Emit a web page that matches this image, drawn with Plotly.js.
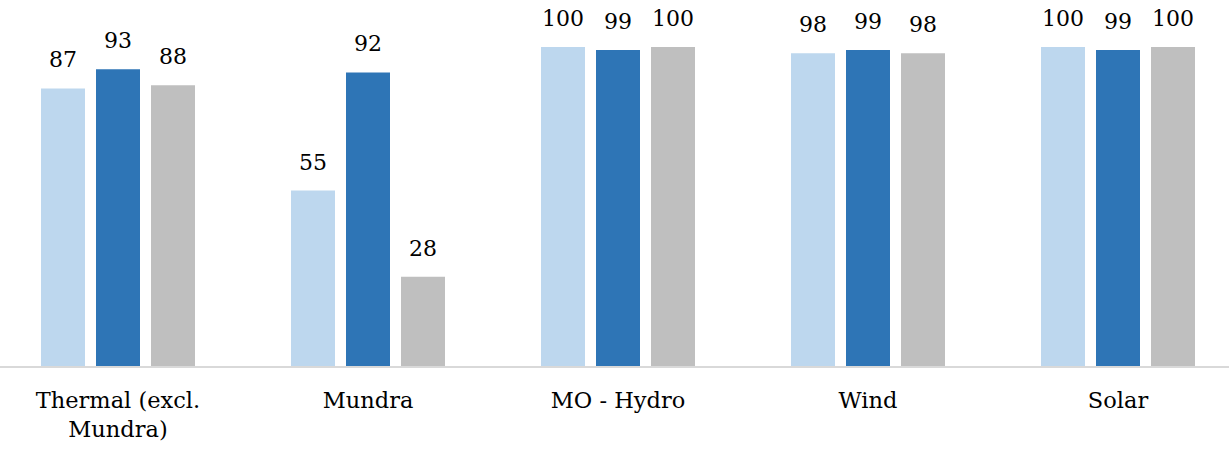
<!DOCTYPE html>
<html>
<head>
<meta charset="utf-8">
<script src="https://cdn.plot.ly/plotly-3.0.1.min.js"></script>
<style>html,body{margin:0;padding:0;background:#fff;}#chart{width:1229px;height:451px;}</style>
</head>
<body>
<div id="chart"></div>
<script>
const categories = ["Thermal (excl.<br>Mundra)", "Mundra", "MO - Hydro", "Wind", "Solar"];
const series1 = [87, 55, 100, 98, 100];
const series2 = [93, 92, 99, 99, 99];
const series3 = [88, 28, 100, 98, 100];
const seriesNames = ["Series 1", "Series 2", "Series 3"];
const colors = ["#BDD7EE", "#2E75B6", "#BFBFBF"];

const FONT = "DejaVu Serif";
const allSeries = [series1, series2, series3];
const traces = allSeries.map((vals, i) => ({
  type: "bar",
  name: seriesNames[i],
  x: categories,
  y: vals,
  marker: {color: colors[i]},
  hoverinfo: "skip"
}));

const SLOT = 55;
const annotations = [];
allSeries.forEach((vals, i) => {
  vals.forEach((v, j) => {
    annotations.push({
      x: categories[j], y: v, xref: "x", yref: "y",
      text: String(v), showarrow: false,
      xanchor: "center", yanchor: "bottom",
      xshift: (i - 1) * SLOT, yshift: 14,
      font: {family: FONT, size: 22, color: "#000"}
    });
  });
});

const layout = {
  width: 1229, height: 451,
  margin: {l: 0, r: 0, t: 0, b: 85},
  paper_bgcolor: "#fff", plot_bgcolor: "#fff",
  showlegend: false,
  barmode: "group",
  bargap: 0.34,
  bargroupgap: 0.2,
  annotations: annotations,
  xaxis: {
    type: "category",
    range: [-0.472, 4.444],
    showline: true, linecolor: "#D9D9D9", linewidth: 1.5,
    ticks: "", showgrid: false, zeroline: false,
    ticklabelstandoff: 13,
    tickfont: {family: FONT, size: 22.5, color: "#000"}
  },
  yaxis: {
    range: [0, 114.7], visible: false, showgrid: false, zeroline: false
  },
  font: {family: FONT}
};
Plotly.newPlot("chart", traces, layout, {displayModeBar: false, staticPlot: true});
</script>
</body>
</html>
